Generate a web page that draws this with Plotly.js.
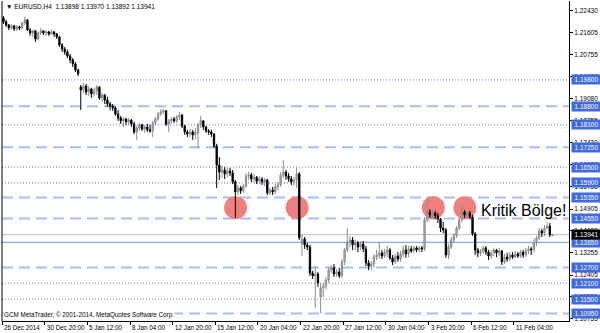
<!DOCTYPE html>
<html><head><meta charset="utf-8">
<script src="https://cdn.plot.ly/plotly-3.0.1.min.js"></script>
<style>html,body{margin:0;padding:0;background:#fff;overflow:hidden}#chart{width:600px;height:333px}</style>
</head><body><div id="chart"></div>
<script>
const openP=[1.2215,1.2200,1.2188,1.2177,1.2185,1.2173,1.2181,1.2177,1.2196,1.2207,
1.2169,1.2158,1.2166,1.2135,1.2158,1.2166,1.2158,1.2162,1.2154,1.2162,
1.2154,1.2143,1.2112,1.2097,1.2086,1.2071,1.2056,1.2041,1.2018,1.1953,
1.1942,1.1957,1.1934,1.1946,1.1927,1.1938,1.1953,1.1912,1.1923,1.1904,
1.1889,1.1881,1.1874,1.1851,1.1836,1.1825,1.1832,1.1821,1.1828,1.1813,
1.1783,1.1798,1.1810,1.1794,1.1802,1.1791,1.1787,1.1817,1.1832,1.1851,
1.1859,1.1863,1.1813,1.1825,1.1832,1.1825,1.1840,1.1847,1.1806,1.1783,
1.1775,1.1783,1.1772,1.1779,1.1810,1.1825,1.1802,1.1787,1.1783,1.1775,
1.1730,1.1658,1.1631,1.1639,1.1624,1.1635,1.1628,1.1594,1.1556,1.1571,
1.1560,1.1578,1.1616,1.1620,1.1605,1.1612,1.1597,1.1605,1.1594,1.1601,
1.1552,1.1563,1.1556,1.1575,1.1582,1.1620,1.1631,1.1616,1.1605,1.1594,
1.1601,1.1624,1.1359,1.1378,1.1355,1.1347,1.1249,1.1238,1.1245,1.1158,
1.1192,1.1200,1.1222,1.1260,1.1268,1.1245,1.1253,1.1238,1.1291,1.1336,
1.1363,1.1374,1.1355,1.1363,1.1347,1.1359,1.1340,1.1287,1.1275,1.1283,
1.1309,1.1317,1.1325,1.1313,1.1328,1.1336,1.1306,1.1291,1.1313,1.1302,
1.1321,1.1336,1.1321,1.1340,1.1332,1.1344,1.1336,1.1344,1.1340,1.1450,
1.1480,1.1469,1.1476,1.1465,1.1453,1.1419,1.1412,1.1317,1.1347,1.1374,
1.1389,1.1419,1.1450,1.1480,1.1469,1.1476,1.1461,1.1397,1.1336,1.1325,
1.1332,1.1344,1.1328,1.1313,1.1325,1.1336,1.1325,1.1332,1.1291,1.1309,
1.1302,1.1317,1.1309,1.1321,1.1313,1.1328,1.1317,1.1332,1.1340,1.1336,
1.1363,1.1382,1.1408,1.1400,1.1419,1.1427,1.13898];
const highP=[1.2222,1.2207,1.2192,1.2192,1.2188,1.2188,1.2185,1.2200,1.2219,1.2211,
1.2177,1.2169,1.2169,1.2162,1.2177,1.2169,1.2169,1.2166,1.2169,1.2166,
1.2158,1.2147,1.2120,1.2105,1.2094,1.2078,1.2063,1.2048,1.2022,1.1961,
1.1969,1.1965,1.1957,1.1950,1.1950,1.1961,1.1957,1.1931,1.1927,1.1916,
1.1897,1.1889,1.1881,1.1866,1.1844,1.1840,1.1836,1.1836,1.1832,1.1821,
1.1806,1.1817,1.1813,1.1810,1.1813,1.1810,1.1825,1.1840,1.1859,1.1870,
1.1870,1.1866,1.1832,1.1840,1.1840,1.1847,1.1859,1.1851,1.1810,1.1791,
1.1794,1.1791,1.1798,1.1817,1.1844,1.1828,1.1806,1.1794,1.1791,1.1779,
1.1738,1.1688,1.1654,1.1650,1.1647,1.1647,1.1639,1.1601,1.1582,1.1578,
1.1586,1.1628,1.1631,1.1628,1.1624,1.1616,1.1616,1.1612,1.1609,1.1605,
1.1571,1.1575,1.1586,1.1594,1.1631,1.1677,1.1639,1.1628,1.1616,1.1612,
1.1647,1.1631,1.1393,1.1385,1.1363,1.1355,1.1257,1.1275,1.1253,1.1211,
1.1211,1.1234,1.1272,1.1279,1.1283,1.1264,1.1268,1.1302,1.1344,1.1419,
1.1389,1.1385,1.1374,1.1370,1.1370,1.1370,1.1351,1.1298,1.1294,1.1321,
1.1336,1.1366,1.1336,1.1340,1.1351,1.1344,1.1317,1.1321,1.1328,1.1332,
1.1351,1.1355,1.1351,1.1351,1.1351,1.1351,1.1351,1.1351,1.1461,1.1537,
1.1491,1.1487,1.1484,1.1476,1.1457,1.1442,1.1419,1.1359,1.1385,1.1400,
1.1427,1.1461,1.1506,1.1487,1.1484,1.1484,1.1469,1.1404,1.1344,1.1340,
1.1351,1.1351,1.1336,1.1336,1.1344,1.1340,1.1344,1.1336,1.1321,1.1325,
1.1328,1.1328,1.1332,1.1328,1.1336,1.1336,1.1344,1.1351,1.1347,1.1378,
1.1389,1.1419,1.1416,1.1431,1.1442,1.1438,1.13970];
const lowP=[1.2192,1.2181,1.2169,1.2169,1.2166,1.2166,1.2169,1.2173,1.2188,1.2166,
1.2147,1.2143,1.2124,1.2131,1.2150,1.2150,1.2147,1.2147,1.2150,1.2143,
1.2135,1.2105,1.2086,1.2075,1.2063,1.2044,1.2029,1.2010,1.1995,1.1866,
1.1931,1.1923,1.1919,1.1912,1.1916,1.1923,1.1904,1.1897,1.1889,1.1878,
1.1866,1.1863,1.1844,1.1825,1.1813,1.1802,1.1810,1.1810,1.1802,1.1775,
1.1753,1.1787,1.1787,1.1779,1.1783,1.1779,1.1764,1.1806,1.1825,1.1844,
1.1851,1.1806,1.1783,1.1813,1.1817,1.1817,1.1828,1.1798,1.1772,1.1764,
1.1764,1.1753,1.1756,1.1722,1.1798,1.1791,1.1779,1.1772,1.1764,1.1722,
1.1571,1.1601,1.1609,1.1605,1.1612,1.1616,1.1586,1.1457,1.1544,1.1548,
1.1552,1.1571,1.1601,1.1594,1.1590,1.1586,1.1586,1.1582,1.1578,1.1544,
1.1544,1.1544,1.1548,1.1563,1.1575,1.1609,1.1601,1.1594,1.1582,1.1578,
1.1571,1.1374,1.1313,1.1340,1.1336,1.1238,1.1226,1.1116,1.1196,1.1097,
1.1158,1.1188,1.1211,1.1249,1.1234,1.1234,1.1230,1.1230,1.1279,1.1328,
1.1347,1.1336,1.1336,1.1328,1.1336,1.1328,1.1275,1.1260,1.1257,1.1268,
1.1298,1.1302,1.1302,1.1306,1.1309,1.1298,1.1279,1.1283,1.1291,1.1291,
1.1309,1.1306,1.1309,1.1325,1.1325,1.1328,1.1328,1.1328,1.1332,1.1442,
1.1457,1.1457,1.1453,1.1438,1.1404,1.1400,1.1306,1.1302,1.1340,1.1363,
1.1382,1.1412,1.1442,1.1457,1.1457,1.1453,1.1389,1.1317,1.1309,1.1313,
1.1321,1.1317,1.1298,1.1302,1.1313,1.1309,1.1313,1.1279,1.1283,1.1291,
1.1294,1.1302,1.1306,1.1306,1.1306,1.1306,1.1309,1.1321,1.1317,1.1328,
1.1351,1.1374,1.1385,1.1389,1.1416,1.1385,1.13892];
const closeP=[1.2200,1.2188,1.2177,1.2185,1.2173,1.2181,1.2177,1.2196,1.2207,1.2169,
1.2158,1.2166,1.2135,1.2158,1.2166,1.2158,1.2162,1.2154,1.2162,1.2154,
1.2143,1.2112,1.2097,1.2086,1.2071,1.2056,1.2041,1.2018,1.2003,1.1942,
1.1957,1.1934,1.1946,1.1927,1.1938,1.1953,1.1912,1.1923,1.1904,1.1889,
1.1881,1.1874,1.1851,1.1836,1.1825,1.1832,1.1821,1.1828,1.1813,1.1783,
1.1798,1.1810,1.1794,1.1802,1.1791,1.1787,1.1817,1.1832,1.1851,1.1859,
1.1863,1.1813,1.1825,1.1832,1.1825,1.1840,1.1847,1.1806,1.1783,1.1775,
1.1783,1.1772,1.1783,1.1810,1.1825,1.1802,1.1787,1.1783,1.1775,1.1730,
1.1658,1.1631,1.1639,1.1624,1.1635,1.1628,1.1594,1.1556,1.1571,1.1560,
1.1578,1.1616,1.1620,1.1605,1.1612,1.1597,1.1605,1.1594,1.1601,1.1552,
1.1563,1.1556,1.1575,1.1582,1.1620,1.1631,1.1616,1.1605,1.1594,1.1601,
1.1624,1.1382,1.1378,1.1355,1.1347,1.1249,1.1238,1.1245,1.1211,1.1192,
1.1200,1.1222,1.1260,1.1268,1.1245,1.1253,1.1238,1.1291,1.1336,1.1363,
1.1374,1.1355,1.1363,1.1347,1.1359,1.1340,1.1287,1.1275,1.1283,1.1309,
1.1317,1.1325,1.1313,1.1328,1.1336,1.1306,1.1291,1.1313,1.1302,1.1321,
1.1336,1.1321,1.1340,1.1332,1.1344,1.1336,1.1344,1.1340,1.1450,1.1480,
1.1469,1.1476,1.1465,1.1453,1.1419,1.1412,1.1317,1.1347,1.1374,1.1389,
1.1419,1.1450,1.1480,1.1469,1.1476,1.1461,1.1397,1.1336,1.1325,1.1332,
1.1344,1.1328,1.1313,1.1325,1.1336,1.1325,1.1332,1.1291,1.1309,1.1302,
1.1317,1.1309,1.1321,1.1313,1.1328,1.1317,1.1332,1.1340,1.1336,1.1363,
1.1382,1.1408,1.1400,1.1419,1.1427,1.1393,1.13941];

const xLabels=['26 Dec 2014','30 Dec 20:00','5 Jan 12:00','8 Jan 04:00','12 Jan 20:00','15 Jan 12:00','20 Jan 04:00','22 Jan 20:00','27 Jan 12:00','30 Jan 04:00','3 Feb 20:00','6 Feb 12:00','11 Feb 04:00'];
const priceTicks=[1.22430,1.21605,1.20755,1.19930,1.19080,1.18255,1.17430,1.16580,1.15755,1.14905,1.14080,1.13255,1.12405,1.11580,1.10755];
const dottedLevels=[1.19800,1.18100,1.16500,1.15900,1.12100,1.11500];
const dashedLevels=[1.18800,1.17250,1.15350,1.14550,1.12700,1.10950];
const solidLevels=[1.13650];
const bidPrice=1.13941;
const symbolName='EURUSD,H4';
const zoneLabel='Kritik Bölge!';
const copyrightText='GCM MetaTrader, © 2001-2014, MetaQuotes Software Corp.';

const FONT='Liberation Sans, Arial, sans-serif';
const n=closeP.length;
const barIdx=closeP.map((_,i)=>i);
const last=n-1;

const shapes=[];
dottedLevels.forEach(v=>shapes.push({type:'line',xref:'paper',x0:0,x1:1,yref:'y',y0:v,y1:v,layer:'below',line:{color:'#5a74e4',width:1,dash:'1px,2px'}}));
dashedLevels.forEach(v=>shapes.push({type:'line',xref:'paper',x0:0,x1:1,yref:'y',y0:v,y1:v,layer:'below',line:{color:'#a9bdf2',width:2,dash:'11px,6px'}}));
solidLevels.forEach(v=>shapes.push({type:'line',xref:'paper',x0:0,x1:1,yref:'y',y0:v,y1:v,layer:'below',line:{color:'#7890ea',width:1}}));
shapes.push({type:'line',xref:'paper',x0:0,x1:1,yref:'y',y0:bidPrice,y1:bidPrice,layer:'below',line:{color:'#c0c0c0',width:1}});
shapes.push({type:'line',xref:'paper',x0:0,x1:0,yref:'paper',y0:0,y1:1,line:{color:'#000',width:1}});
[[87.1,1.1496],[110.2,1.1496],[161.3,1.1496],[173.1,1.1496]].forEach(c=>shapes.push({
  type:'circle',xref:'x',yref:'y',xsizemode:'pixel',ysizemode:'pixel',xanchor:c[0],yanchor:c[1],
  x0:-11.5,x1:11.5,y0:-11.5,y1:11.5,fillcolor:'#f08080',line:{width:0},layer:'below'}));

const annotations=[];
annotations.push({xref:'x',x:178.5,xanchor:'left',yref:'y',y:1.1484,yanchor:'middle',showarrow:false,
  text:zoneLabel,font:{family:FONT,size:16,color:'#000'}});
const allLevels=dottedLevels.concat(dashedLevels,solidLevels);
allLevels.forEach(v=>annotations.push({xref:'paper',x:1,xanchor:'left',xshift:2,yref:'y',y:v,yanchor:'middle',
  text:v.toFixed(5),showarrow:false,bgcolor:'#4169e1',borderpad:0,width:29,height:9,
  font:{family:FONT,size:6.5,color:'#ffffff'}}));
annotations.push({xref:'paper',x:1,xanchor:'left',xshift:2,yref:'y',y:bidPrice,yanchor:'middle',
  text:bidPrice.toFixed(5),showarrow:false,bgcolor:'#000000',borderpad:0,width:29,height:9,
  font:{family:FONT,size:6.5,color:'#ffffff'}});
xLabels.forEach((t,k)=>annotations.push({xref:'x',x:k*16-0.5,xanchor:'left',yref:'paper',y:0,yanchor:'top',yshift:-1,
  text:t,showarrow:false,font:{family:FONT,size:6.3,color:'#000'}}));
annotations.push({xref:'paper',x:0,xanchor:'left',xshift:2,yref:'paper',y:1,yanchor:'top',yshift:0,showarrow:false,
  text:'▼ '+symbolName+'  '+[openP[last],highP[last],lowP[last],closeP[last]].map(v=>v.toFixed(5)).join(' '),
  font:{family:FONT,size:6.5,color:'#000'}});
annotations.push({xref:'paper',x:0,xanchor:'left',xshift:1,yref:'paper',y:0,yanchor:'bottom',yshift:1,showarrow:false,
  text:copyrightText,bgcolor:'#ffffff',borderpad:0,font:{family:FONT,size:6.3,color:'#000'}});

const trace={type:'candlestick',x:barIdx,open:openP,high:highP,low:lowP,close:closeP,
  increasing:{line:{color:'#8c8c8c',width:1},fillcolor:'#b4b4b4'},
  decreasing:{line:{color:'#000000',width:1},fillcolor:'#000000'},
  whiskerwidth:0,hoverinfo:'none',showlegend:false};

const layout={width:600,height:333,margin:{l:2,r:31,t:1,b:12},paper_bgcolor:'#fff',plot_bgcolor:'#fff',
  showlegend:false,
  xaxis:{range:[-0.55,212.2],showgrid:false,zeroline:false,showline:true,linecolor:'#000',linewidth:1,
    ticks:'outside',ticklen:3,tickcolor:'#000',tickvals:xLabels.map((_,k)=>k*16-0.5),showticklabels:false,
    rangeslider:{visible:false},fixedrange:true},
  yaxis:{side:'right',range:[1.1067,1.2279],showgrid:false,zeroline:false,showline:true,linecolor:'#000',linewidth:1,
    ticks:'outside',ticklen:3,tickcolor:'#000',tickvals:priceTicks,ticktext:priceTicks.map(v=>v.toFixed(5)),
    tickfont:{family:FONT,size:6.5,color:'#000'},fixedrange:true},
  shapes:shapes,annotations:annotations};

Plotly.newPlot('chart',[trace],layout,{staticPlot:true,displayModeBar:false});
</script></body></html>
